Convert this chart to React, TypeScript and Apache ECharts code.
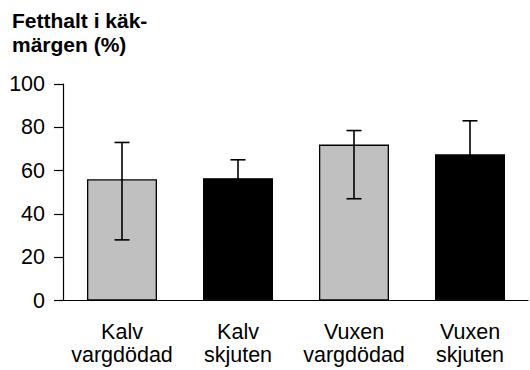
import React, { useEffect, useRef } from "react";
import * as echarts from "echarts";

// Fat content of jaw marrow by group
const categories = ["Kalv\nvargdödad", "Kalv\nskjuten", "Vuxen\nvargdödad", "Vuxen\nskjuten"];
const means = [56, 56.5, 72, 67.5];
const errLow = [28, 48, 47, 52];
const errHigh = [73, 65, 78.5, 83];
const barColors = ["#c0c0c0", "#000000", "#c0c0c0", "#000000"];
const yTicks = [0, 20, 40, 60, 80, 100];

const FONT = "'Liberation Sans', Arial, sans-serif";

export default function App() {
  const ref = useRef<HTMLDivElement>(null);

  useEffect(() => {
    if (!ref.current) return;
    const chart = echarts.init(ref.current, null, { renderer: "svg" });

    const errData = categories.map((_, i) => [i, errLow[i], errHigh[i]]);

    chart.setOption({
      animation: false,
      backgroundColor: "#ffffff",
      title: {
        text: "Fetthalt i käk-\nmärgen (%)",
        left: 12,
        top: 8,
        padding: 0,
        textStyle: {
          fontFamily: FONT,
          fontSize: 21,
          fontWeight: "bold",
          lineHeight: 24,
          color: "#000",
        },
      },
      grid: { left: 64, right: 2, top: 84, bottom: 69.5 },
      xAxis: {
        type: "category",
        data: categories,
        axisLine: { lineStyle: { color: "#000", width: 1.2 } },
        axisTick: { show: false },
        axisLabel: {
          color: "#000",
          fontFamily: FONT,
          fontSize: 21.5,
          lineHeight: 23,
          margin: 20,
          interval: 0,
        },
      },
      yAxis: {
        type: "value",
        min: yTicks[0],
        max: yTicks[yTicks.length - 1],
        interval: 20,
        offset: 1,
        splitLine: { show: false },
        axisLine: { show: true, lineStyle: { color: "#000", width: 1.2 } },
        axisTick: { show: true, length: 9, lineStyle: { color: "#000", width: 1.2 } },
        axisLabel: {
          color: "#000",
          fontFamily: FONT,
          fontSize: 21.5,
          margin: 18,
        },
      },
      series: [
        {
          type: "bar",
          barWidth: 70,
          data: means.map((v, i) => ({
            value: v,
            itemStyle: { color: barColors[i], borderColor: "#000", borderWidth: 1.3 },
          })),
          z: 2,
        },
        {
          type: "custom",
          z: 3,
          data: errData,
          renderItem: (params: any, api: any) => {
            const x = api.value(0);
            const lo = api.coord([x, api.value(1)]);
            const hi = api.coord([x, api.value(2)]);
            const cap = 7.5;
            const style = { stroke: "#000", lineWidth: 1.6 };
            return {
              type: "group",
              children: [
                { type: "line", shape: { x1: lo[0], y1: lo[1], x2: hi[0], y2: hi[1] }, style },
                { type: "line", shape: { x1: hi[0] - cap, y1: hi[1], x2: hi[0] + cap, y2: hi[1] }, style },
                { type: "line", shape: { x1: lo[0] - cap, y1: lo[1], x2: lo[0] + cap, y2: lo[1] }, style },
              ],
            };
          },
        },
      ],
    });

    return () => chart.dispose();
  }, []);

  return (
    <div
      ref={ref}
      style={{ position: "fixed", left: 0, top: 0, width: 530, height: 370, background: "#fff" }}
    />
  );
}
